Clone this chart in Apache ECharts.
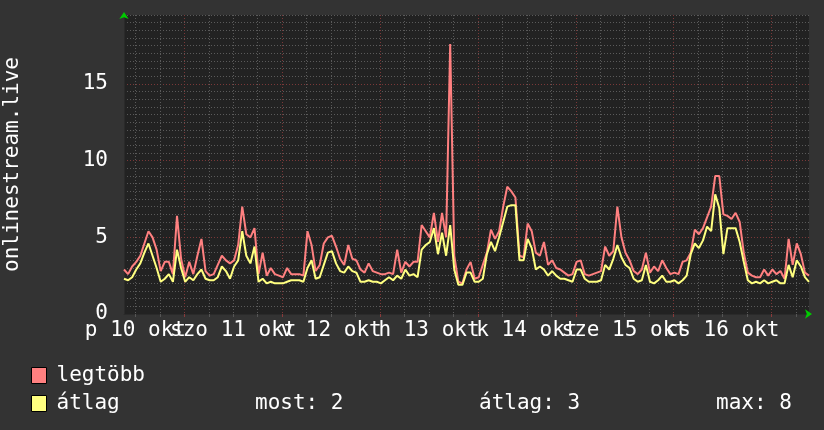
<!DOCTYPE html>
<html><head><meta charset="utf-8">
<script src="https://cdn.jsdelivr.net/npm/echarts@6/dist/echarts.min.js"></script>
<style>html,body{margin:0;padding:0;background:#333333;}#c{width:824px;height:430px;}</style>
</head><body><div id="c"></div>
<script>
// time axis: hours after 10 Oct 00:00, one sample per hour
const startHour = 9.2;
const maxVals = [
 2.9,2.6,3.1,3.4,3.8,4.6,5.4,5.0,4.2,2.8,3.4,3.4,2.6,6.4,3.6,2.4,3.4,2.6,3.8,4.9,2.8,2.5,2.6,3.2,3.8,
 3.5,3.3,3.5,4.5,7.0,5.2,5.0,5.6,2.6,4.0,2.5,3.0,2.6,2.5,2.4,3.0,2.6,2.6,2.6,2.5,5.4,4.5,2.8,3.2,
 4.6,5.0,5.1,4.4,3.6,3.2,4.5,3.6,3.5,2.9,2.7,3.3,2.8,2.7,2.6,2.6,2.7,2.6,4.2,2.7,3.4,3.1,3.4,3.4,
 5.8,5.4,5.0,6.6,4.7,6.6,5.0,17.6,3.8,2.1,2.0,2.9,3.4,2.3,2.4,3.2,4.0,5.5,4.9,5.4,7.0,8.3,8.0,7.6,
 3.8,3.7,5.9,5.4,4.0,3.8,4.7,3.2,3.5,3.0,2.9,2.7,2.5,2.6,3.4,3.5,2.6,2.5,2.6,2.7,2.8,4.4,3.8,4.1,
 7.0,5.0,4.0,3.5,2.8,2.6,2.9,4.0,2.7,3.1,2.8,3.5,3.0,2.6,2.7,2.6,3.4,3.5,4.0,5.5,5.2,5.6,6.3,7.0,
 9.0,9.0,6.5,6.4,6.2,6.6,6.0,4.0,2.7,2.5,2.4,2.4,2.9,2.5,2.9,2.6,2.8,2.3,4.9,3.2,4.6,3.9,2.7,2.5
];
const avgVals = [
 2.3,2.2,2.4,2.9,3.3,4.0,4.6,3.8,3.0,2.1,2.3,2.6,2.1,4.2,3.0,2.1,2.4,2.2,2.6,2.9,2.3,2.2,2.2,2.4,3.1,
 2.8,2.3,3.1,3.5,5.4,3.8,3.3,4.4,2.1,2.3,2.0,2.1,2.0,2.0,2.0,2.1,2.2,2.2,2.2,2.1,3.0,3.5,2.3,2.4,
 3.2,4.0,4.1,3.3,2.8,2.7,3.1,2.8,2.7,2.1,2.1,2.2,2.1,2.1,2.0,2.2,2.4,2.2,2.5,2.3,2.9,2.5,2.6,2.4,
 4.2,4.5,4.7,5.6,3.9,5.3,3.8,5.8,2.9,1.9,1.9,2.7,2.7,2.1,2.1,2.3,3.9,4.7,4.1,5.0,6.0,7.0,7.1,7.1,
 3.5,3.5,4.9,4.3,2.9,3.1,2.9,2.5,2.8,2.5,2.3,2.3,2.2,2.1,2.9,2.9,2.3,2.1,2.1,2.1,2.2,3.2,2.9,3.6,
 4.5,3.7,3.2,3.0,2.3,2.1,2.2,3.2,2.1,2.0,2.2,2.5,2.1,2.1,2.2,2.0,2.2,2.5,3.9,4.6,4.3,4.8,5.7,5.4,
 7.8,6.9,3.9,5.6,5.6,5.6,4.7,3.4,2.2,2.0,2.1,2.0,2.2,2.0,2.1,2.2,2.0,2.0,3.2,2.4,3.5,3.1,2.4,2.1
];
const dayLabels = ['p 10 okt','szo 11 okt','v 12 okt','h 13 okt','k 14 okt','sze 15 okt','cs 16 okt'];
const labelHours = [12,36,60,84,108,132,156];
const midnightHours = [24,48,72,96,120,144,168];
const yTickLabels = [0,5,10,15];
const seriesNames = ['legtöbb','átlag'];
const seriesColors = ['#ff8080','#ffff80'];
const statNames = ['most','átlag','max'];
const statValues = [2,3,8];
const yTitle = 'onlinestream.live';

const FONT = 'DejaVu Sans Mono';
const FS = 21;
const xMin = startHour, xMax = startHour + maxVals.length - 1;
const yMax = 19.5;
const minorX = []; for (let h = 12; h <= xMax; h += 6) minorX.push(h);
const minorY = []; for (let v = 0.5; v <= yMax; v += 0.5) minorY.push(+v.toFixed(1));
const labelsEven = labelHours.filter((h,i)=>i%2===0);
const labelsOdd = labelHours.filter((h,i)=>i%2===1);
const fmt = (v)=>dayLabels[labelHours.indexOf(Math.round(v))] || '';

const chart = echarts.init(document.getElementById('c'), null, {renderer:'canvas'});
const hidden = {show:false};
const labelAxis = (vals)=>({type:'value', position:'bottom', offset:0, min:xMin, max:xMax,
  axisLine:hidden, axisTick:hidden, splitLine:hidden,
  axisLabel:{show:true, customValues:vals, margin:6, color:'#ffffff', fontFamily:FONT, fontSize:FS,
    hideOverlap:false, formatter:fmt}});
const option = {
  backgroundColor:'#333333',
  animation:false,
  textStyle:{fontFamily:FONT},
  grid:{left:124, top:15, width:685, height:299, show:true, backgroundColor:'#222222', borderWidth:0,
        containLabel:false, outerBoundsMode:'none'},
  legend:{
    orient:'vertical', left:26, top:360, itemWidth:15, itemHeight:16, itemGap:7, icon:'rect',
    selectedMode:false, data:seriesNames,
    itemStyle:{borderColor:'#000', borderWidth:1},
    textStyle:{color:'#ffffff', fontFamily:FONT, fontSize:FS, padding:[0,0,0,5]}
  },
  title: statNames.map((n,i)=>({
    text: n + ': ' + statValues[i], left:[250,474,711][i], top:388,
    textStyle:{color:'#ffffff', fontFamily:FONT, fontSize:FS, fontWeight:'normal'}
  })),
  xAxis:[
    {type:'value', position:'bottom', offset:0, min:xMin, max:xMax,
     axisLine:{show:true, lineStyle:{color:'#2a2a2a', width:1}},
     axisTick:{show:true, length:3, customValues:minorX, lineStyle:{color:'#555'}},
     axisLabel:{show:false},
     splitLine:{show:true, lineStyle:{color:'#5a5a5a', width:1, type:[1,2]}}},
    {type:'value', position:'bottom', offset:0, min:xMin, max:xMax, axisLine:hidden,
     axisTick:{show:true, length:3, customValues:midnightHours, lineStyle:{color:'#8a3a3a'}},
     axisLabel:{show:false},
     splitLine:{show:true, lineStyle:{color:'#7a3838', width:1, type:[1,2]}}},
    labelAxis(labelsEven),
    labelAxis(labelsOdd),
    {type:'value', position:'bottom', offset:0, min:xMin, max:xMax,
     axisLine:{show:true, symbol:['none','arrow'], symbolSize:[7,7], symbolOffset:[0,3], lineStyle:{color:'#00cc00', width:0}},
     axisTick:hidden, axisLabel:hidden, splitLine:hidden}
  ],
  yAxis:[
    {type:'value', position:'left', offset:0, min:0, max:yMax,
     axisLine:{show:true, lineStyle:{color:'#2a2a2a', width:1}},
     axisTick:{show:false, customValues:minorY}, axisLabel:{show:false},
     splitLine:{show:true, lineStyle:{color:'#5a5a5a', width:1, type:[1,2]}}},
    {type:'value', position:'left', offset:0, min:0, max:yMax, axisLine:hidden,
     axisTick:{show:false, customValues:yTickLabels},
     axisLabel:{show:true, customValues:yTickLabels, margin:16, color:'#ffffff', fontFamily:FONT, fontSize:FS},
     splitLine:{show:true, lineStyle:{color:'#7a3838', width:1, type:[1,2]}},
     name:yTitle, nameLocation:'middle', nameGap:101,
     nameTextStyle:{color:'#ffffff', fontFamily:FONT, fontSize:FS}},
    {type:'value', position:'left', offset:0, min:0, max:yMax,
     axisLine:{show:true, symbol:['none','arrow'], symbolSize:[7,7], symbolOffset:[0,3], lineStyle:{color:'#00cc00', width:0}},
     axisTick:hidden, axisLabel:hidden, splitLine:hidden}
  ],
  series:[
    {name:seriesNames[0], type:'line', showSymbol:false, xAxisIndex:0, yAxisIndex:0,
     color:seriesColors[0], lineStyle:{color:seriesColors[0], width:2},
     data:maxVals.map((v,i)=>[startHour+i, v])},
    {name:seriesNames[1], type:'line', showSymbol:false, xAxisIndex:0, yAxisIndex:0,
     color:seriesColors[1], lineStyle:{color:seriesColors[1], width:2},
     data:avgVals.map((v,i)=>[startHour+i, v])}
  ]
};
chart.setOption(option);
</script></body></html>
